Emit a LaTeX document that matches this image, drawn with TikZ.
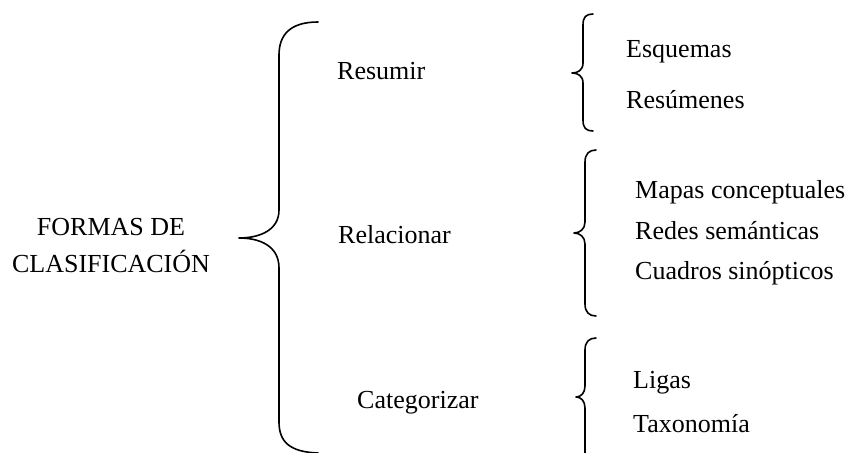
\documentclass[tikz,border=0pt]{standalone}
\usepackage{fontspec}
\setmainfont{Liberation Serif}
\begin{document}
\begin{tikzpicture}[x=1pt,y=-1pt,
  lbl/.style={inner sep=0pt,anchor=base west,font=\fontsize{26}{37}\selectfont},
  brace/.style={draw=black,line width=1.6pt,line cap=round,line join=round}]
\useasboundingbox (0,0) rectangle (853,452);

% title (base anchor sits on the last line)
\node[lbl,anchor=base,align=center] (title) at (111,272) {FORMAS DE\\CLASIFICACIÓN};

% main brace
\draw[brace] (318,22) .. controls (290,22) and (279,35) .. (279,55)
  -- (279,210) .. controls (279,230) and (260,238) .. (239,238)
  .. controls (260,238) and (279,246) .. (279,268)
  -- (279,422) .. controls (279,442) and (290,452) .. (318,453);

% second level
\node[lbl] (resumir) at (337,79) {Resumir};
\node[lbl] (relacionar) at (338,243) {Relacionar};
\node[lbl] (categorizar) at (357,408) {Categorizar};

% small braces
\draw[brace] (593,14) .. controls (586,14) and (583,17) .. (583,25)
  -- (583,63) .. controls (583,70) and (578,73) .. (572,73)
  .. controls (578,73) and (583,76) .. (583,83)
  -- (583,120) .. controls (583,128) and (586,131) .. (593,131);
\draw[brace] (596,150) .. controls (589,150) and (585,154) .. (585,162)
  -- (585,222) .. controls (585,229) and (580,233) .. (574,233)
  .. controls (580,233) and (585,237) .. (585,244)
  -- (585,304) .. controls (585,312) and (589,316) .. (596,316);
\draw[brace] (596,338) .. controls (589,338) and (585,342) .. (585,350)
  -- (585,386) .. controls (585,393) and (581,397) .. (576,397)
  .. controls (581,397) and (585,401) .. (585,408)
  -- (585,453);

% third level
\node[lbl] (esquemas) at (626,58) {Esquemas};
\node[lbl] (resumenes) at (626,108) {Resúmenes};
\node[lbl] (mapas) at (635,198) {Mapas conceptuales};
\node[lbl] (redes) at (635,239) {Redes semánticas};
\node[lbl] (cuadros) at (635,279) {Cuadros sinópticos};
\node[lbl] (ligas) at (633,388) {Ligas};
\node[lbl] (taxonomia) at (633,432) {Taxonomía};
\end{tikzpicture}
\end{document}
